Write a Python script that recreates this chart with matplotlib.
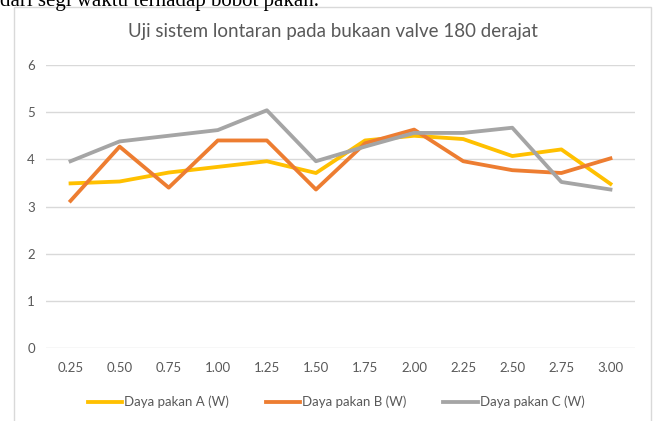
import matplotlib.pyplot as plt
from matplotlib.patches import Rectangle

plt.rcParams['font.family'] = ['Lato', 'DejaVu Sans']

waktu = ["0.25", "0.50", "0.75", "1.00", "1.25", "1.50",
         "1.75", "2.00", "2.25", "2.50", "2.75", "3.00"]
daya_a = [3.49, 3.53, 3.72, 3.84, 3.96, 3.71, 4.40, 4.50, 4.43, 4.07, 4.21, 3.48]
daya_b = [3.12, 4.27, 3.40, 4.40, 4.40, 3.36, 4.34, 4.63, 3.96, 3.77, 3.71, 4.02]
daya_c = [3.96, 4.38, 4.50, 4.62, 5.04, 3.96, 4.27, 4.56, 4.56, 4.67, 3.52, 3.36]

W, H = 657, 421
fig = plt.figure(figsize=(W / 100, H / 100), dpi=100)

# leftover line of document text above the chart
fig.text(0.0, 1 - 6 / H, "dari segi waktu terhadap bobot pakan.",
         family="Liberation Serif", fontsize=15, va="baseline", ha="left")

# chart frame
fig.patches.append(Rectangle((13.5 / W, -0.05), 637 / W, 1.05 - 7 / H,
                             transform=fig.transFigure, fill=False,
                             edgecolor="#d9d9d9", lw=1))

ax = fig.add_axes([46 / W, (H - 348) / H, 589 / W, 283 / H])
x = range(len(waktu))
ax.plot(x, daya_a, color="#FFC000", lw=2.75, label="Daya pakan A (W)")
ax.plot(x, daya_b, color="#ED7D31", lw=2.75, label="Daya pakan B (W)")
ax.plot(x, daya_c, color="#A5A5A5", lw=2.75, label="Daya pakan C (W)")

ax.set_xlim(-0.5, len(waktu) - 0.5)
ax.set_ylim(0, 6)
ax.set_yticks(range(7))
ax.set_xticks(list(x))
ax.set_xticklabels(waktu)
ax.grid(axis="y", color="#d9d9d9", lw=1)
ax.set_axisbelow(True)
for s in ax.spines.values():
    s.set_visible(False)
ax.tick_params(length=0, labelsize=9.5, colors="#595959", pad=8)
ax.tick_params(axis="x", pad=10)

fig.text(333 / W, 1 - 32 / H, "Uji sistem lontaran pada bukaan valve 180 derajat",
         ha="center", va="center", fontsize=13.5, color="#595959")

fig.legend(loc="center", bbox_to_anchor=(336 / W, 1 - 402 / H), ncol=3,
           frameon=False, fontsize=9.5, handlelength=2.6, handletextpad=0.15,
           columnspacing=2.8, labelcolor="#595959")

fig.savefig("out.png", dpi=100)
